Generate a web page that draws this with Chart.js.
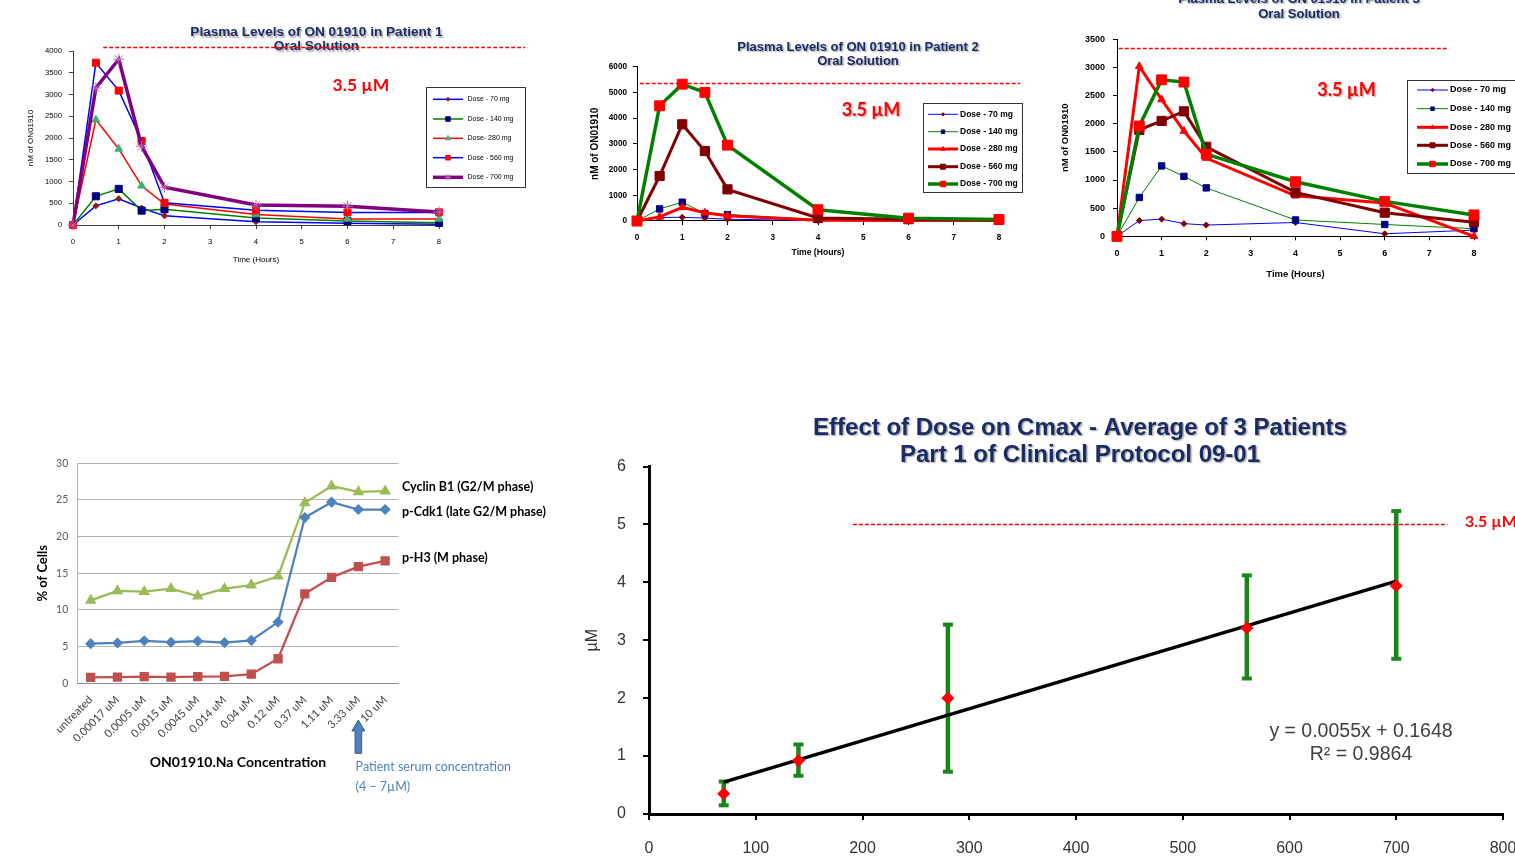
<!DOCTYPE html>
<html>
<head>
<meta charset="utf-8">
<script src="https://cdn.jsdelivr.net/npm/chart.js@4.4.1/dist/chart.umd.min.js"></script>
<style>
  html, body { margin: 0; padding: 0; background: #fff; overflow: hidden; width: 1515px; height: 863px; }
  canvas { position: absolute; left: 0; top: 0; }
</style>
</head>
<body>
<canvas id="p1" width="1600" height="863"></canvas>
<canvas id="p2" width="1600" height="863"></canvas>
<canvas id="p3" width="1600" height="863"></canvas>
<canvas id="cells" width="1600" height="863"></canvas>
<canvas id="cmax" width="1600" height="863"></canvas>
<script>
// ---- data ----
const hours = [0, 0.5, 1, 1.5, 2, 4, 6, 8];

// Patient 1 (nM)
const p1Labels = ['Dose - 70 mg', 'Dose - 140 mg', 'Dose- 280 mg', 'Dose - 560 mg', 'Dose - 700 mg'];
const p1Dose70  = [0, 440, 605, 390, 210, 75, 40, 20];
const p1Dose140 = [0, 660, 830, 330, 360, 160, 90, 50];
const p1Dose280 = [0, 2420, 1750, 900, 480, 240, 140, 140];
const p1Dose560 = [0, 3730, 3090, 1930, 510, 340, 290, 290];
const p1Dose700 = [0, 3150, 3810, 1810, 870, 460, 430, 300];

// Patient 2 (nM)
const p2Labels = ['Dose - 70 mg', 'Dose - 140 mg', 'Dose - 280 mg', 'Dose - 560 mg', 'Dose - 700 mg'];
const p2Dose70  = [0, 135, 145, 110, 70, 15, 10, 10];
const p2Dose140 = [0, 470, 730, 290, 250, 60, 30, 20];
const p2Dose280 = [0, 160, 530, 320, 200, 30, 20, 15];
const p2Dose560 = [0, 1750, 3760, 2720, 1230, 120, 70, 40];
const p2Dose700 = [0, 4480, 5320, 5000, 2950, 440, 110, 60];

// Patient 3 (nM)
const p3Labels = ['Dose - 70 mg', 'Dose - 140 mg', 'Dose - 280 mg', 'Dose - 560 mg', 'Dose - 700 mg'];
const p3Dose70  = [0, 280, 305, 225, 200, 245, 45, 110];
const p3Dose140 = [0, 690, 1250, 1065, 860, 290, 210, 135];
const p3Dose280 = [0, 3020, 2430, 1870, 1390, 720, 590, 0];
const p3Dose560 = [0, 1890, 2050, 2220, 1590, 780, 420, 250];
const p3Dose700 = [0, 1960, 2780, 2740, 1460, 970, 620, 380];

// reference level drawn on each chart (y value, x from, x to)
const p1Ref = [4090, 0.66, 9.88];
const p2Ref = [5350, 0.06, 8.47];
const p3Ref = [3345, 0.04, 7.43];

// cell cycle markers (% of cells)
const concLabels = ['untreated', '0.00017 uM', '0.0005 uM', '0.0015 uM', '0.0045 uM', '0.014 uM',
                    '0.04 uM', '0.12 uM', '0.37 uM', '1.11 uM', '3.33 uM', '10 uM'];
const pCdk1    = [5.4, 5.5, 5.8, 5.6, 5.75, 5.55, 5.85, 8.35, 22.6, 24.7, 23.7, 23.7];
const pH3      = [0.8, 0.85, 0.9, 0.85, 0.9, 0.95, 1.25, 3.35, 12.2, 14.45, 15.9, 16.7];
const cyclinB1 = [11.3, 12.6, 12.5, 12.9, 11.9, 12.9, 13.4, 14.6, 24.6, 26.9, 26.1, 26.2];

// Cmax vs dose (µM)
const doses    = [70, 140, 280, 560, 700];
const cmaxMean = [0.35, 0.92, 2.0, 3.21, 3.94];
const cmaxLow  = [0.15, 0.66, 0.73, 2.34, 2.68];
const cmaxHigh = [0.56, 1.2, 3.27, 4.12, 5.23];
const trendX   = [70, 700];
const trendY   = [0.55, 4.02];
const cmaxRef  = [5.01, 191, 748];

// ---- helpers ----
const CW = 1600, CH = 863;
const ARIAL = "'Liberation Sans', Arial, sans-serif";
const CALIBRI = "Lato, 'Open Sans', sans-serif";
const NAVY = '#1b2b66';
Chart.defaults.font.family = ARIAL;

function frame(area, yTitleX, yTitleSize, boxBottom) {
  const left = yTitleX - yTitleSize * 0.6;
  return {
    padding: { left: left, top: area.top, right: CW - area.right, bottom: CH - boxBottom },
    yw: area.left - left,
    xh: boxBottom - area.bottom
  };
}

function drawText(ctx, t) {
  ctx.save();
  ctx.font = t.font;
  ctx.fillStyle = t.color || '#000';
  ctx.textAlign = t.align || 'center';
  ctx.textBaseline = 'middle';
  if (t.shadow) {
    ctx.shadowColor = 'rgba(0,0,0,0.35)';
    ctx.shadowOffsetX = 1.5;
    ctx.shadowOffsetY = 1.5;
    ctx.shadowBlur = 1.5;
  }
  ctx.fillText(t.text, t.x, t.y);
  ctx.restore();
}

function drawLegend(chart, L) {
  const ctx = chart.ctx;
  ctx.save();
  ctx.fillStyle = '#fff';
  ctx.fillRect(L.x, L.y, L.w, L.h);
  ctx.strokeStyle = L.border;
  ctx.lineWidth = 1;
  ctx.strokeRect(L.x + 0.5, L.y + 0.5, L.w, L.h);
  chart.data.datasets.forEach((ds, i) => {
    const y = L.rows[i];
    ctx.strokeStyle = ds.borderColor;
    ctx.lineWidth = ds.borderWidth;
    ctx.beginPath();
    ctx.moveTo(L.x0, y);
    ctx.lineTo(L.x1, y);
    ctx.stroke();
    ctx.fillStyle = ds.pointBackgroundColor;
    ctx.strokeStyle = ds.pointBorderColor;
    ctx.lineWidth = ds.pointBorderWidth || 1;
    Chart.helpers.drawPoint(ctx, {
      pointStyle: ds.pointStyle, rotation: 0,
      radius: ds.pointRadius * L.markerScale, borderWidth: ds.pointBorderWidth || 1
    }, (L.x0 + L.x1) / 2, y);
    ctx.fillStyle = '#000';
    ctx.font = L.font;
    ctx.textAlign = 'left';
    ctx.textBaseline = 'middle';
    ctx.fillText(ds.label, L.textX, y);
  });
  ctx.restore();
}

const decor = {
  id: 'decor',
  afterDraw(chart, args, o) {
    const ctx = chart.ctx, xs = chart.scales.x, ys = chart.scales.y;
    (o.texts || []).forEach(t => drawText(ctx, t));
    (o.refLines || []).forEach(r => {
      const py = Math.round(ys.getPixelForValue(r[0])) + 0.5;
      ctx.save();
      ctx.strokeStyle = '#ff0000';
      ctx.lineWidth = 1.5;
      ctx.setLineDash([4, 2]);
      ctx.beginPath();
      ctx.moveTo(xs.getPixelForValue(r[1]), py);
      ctx.lineTo(xs.getPixelForValue(r[2]), py);
      ctx.stroke();
      ctx.restore();
    });
    if (o.legend) drawLegend(chart, o.legend);
    if (o.arrow) {
      const a = o.arrow, cx = xs.getPixelForValue(a.index), hy = a.tip + a.headLen;
      ctx.save();
      ctx.beginPath();
      ctx.moveTo(cx, a.tip);
      ctx.lineTo(cx + a.head, hy);
      ctx.lineTo(cx + a.shaft, hy);
      ctx.lineTo(cx + a.shaft, a.base);
      ctx.lineTo(cx - a.shaft, a.base);
      ctx.lineTo(cx - a.shaft, hy);
      ctx.lineTo(cx - a.head, hy);
      ctx.closePath();
      ctx.fillStyle = '#4f81bd';
      ctx.fill();
      ctx.strokeStyle = '#385d8a';
      ctx.lineWidth = 1;
      ctx.stroke();
      ctx.restore();
    }
  }
};

function mk(color, width, style, radius, fill) {
  return { borderColor: color, borderWidth: width, pointStyle: style, pointRadius: radius,
           pointBackgroundColor: fill, pointBorderColor: fill, pointBorderWidth: 1 };
}

const p1Styles = [
  mk('#0000ff', 1.5, 'rectRot', 3, '#8b1a1a'),
  mk('#008000', 1.5, 'rect', 5, '#000080'),
  mk('#ff0000', 1.5, 'triangle', 4.5, '#3cb371'),
  mk('#0000ff', 1.5, 'rect', 5, '#ff0000'),
  mk('#800080', 3.5, 'star', 5.5, '#b36bb3')
];
const p23Styles = [
  mk('#0000ff', 1, 'rectRot', 3, '#800000'),
  mk('#008000', 1, 'rect', 4.5, '#000080'),
  mk('#ff0000', 3, 'triangle', 4.5, '#ff0000'),
  mk('#800000', 3, 'rect', 6.5, '#800000'),
  mk('#008000', 3.5, 'rect', 7, '#ff0000')
];

function patientChart(id, labels, series, styles, c) {
  const f = frame(c.area, c.yTitleX, c.yTitleSize, c.xTitleY + c.xTitleSize * 0.6);
  const datasets = series.map((vals, i) => Object.assign({
    label: labels[i],
    data: hours.map((h, j) => ({ x: h, y: vals[j] })),
    tension: 0, fill: false, clip: false, order: series.length - i
  }, styles[i]));
  return new Chart(document.getElementById(id), {
    type: 'line',
    data: { datasets },
    options: {
      responsive: false, animation: false, events: [],
      layout: { padding: f.padding },
      plugins: { legend: { display: false }, tooltip: { enabled: false }, decor: c.decor },
      scales: {
        x: {
          type: 'linear', min: 0, max: 8,
          afterFit: s => { s.height = f.xh; },
          ticks: { stepSize: 1, font: c.tickFont, color: '#000', padding: 8, callback: v => String(v) },
          grid: { drawOnChartArea: false, tickLength: 4, color: c.axis },
          border: { color: c.axis },
          title: { display: true, text: 'Time (Hours)', font: { size: c.xTitleSize, weight: c.weight }, color: '#000', padding: 0 }
        },
        y: {
          min: 0, max: c.yMax,
          afterFit: s => { s.width = f.yw; },
          ticks: { stepSize: c.yStep, font: c.tickFont, color: '#000', padding: c.yPad, callback: v => String(v) },
          grid: { drawOnChartArea: false, tickLength: 4, color: c.axis },
          border: { color: c.axis },
          title: { display: true, text: 'nM of ON01910', font: { size: c.yTitleSize, weight: c.weight }, color: '#000', padding: 0 }
        }
      }
    },
    plugins: [decor]
  });
}

// ---- Patient 1 ----
patientChart('p1', p1Labels, [p1Dose70, p1Dose140, p1Dose280, p1Dose560, p1Dose700], p1Styles, {
  area: { left: 73, top: 51, right: 439, bottom: 225 },
  yTitleX: 31, yTitleSize: 8, xTitleY: 260, xTitleSize: 8, weight: 'normal',
  yMax: 4000, yStep: 500, yPad: 7, tickFont: { size: 7.7 }, axis: '#404040',
  decor: {
    texts: [
      { text: 'Plasma Levels of ON 01910 in Patient 1', x: 316.5, y: 32.3, font: 'bold 13.6px ' + ARIAL, color: NAVY, shadow: true },
      { text: 'Oral Solution', x: 316.5, y: 46.7, font: 'bold 13.6px ' + ARIAL, color: NAVY, shadow: true },
      { text: '3.5 µM', x: 361, y: 85, font: 'bold 17.5px ' + CALIBRI, color: '#ff0000' }
    ],
    refLines: [p1Ref],
    legend: { x: 426, y: 87, w: 99, h: 100, rows: [99.3, 119, 138.3, 157.7, 177.3],
              x0: 433, x1: 463, textX: 467.5, font: '7px ' + ARIAL, border: '#333', markerScale: 0.65 }
  }
});

// ---- Patient 2 ----
patientChart('p2', p2Labels, [p2Dose70, p2Dose140, p2Dose280, p2Dose560, p2Dose700], p23Styles, {
  area: { left: 637, top: 66.7, right: 999, bottom: 221 },
  yTitleX: 595, yTitleSize: 10, xTitleY: 253, xTitleSize: 8.6, weight: 'bold',
  yMax: 6000, yStep: 1000, yPad: 6, tickFont: { size: 8.2, weight: 'bold' }, axis: '#000',
  decor: {
    texts: [
      { text: 'Plasma Levels of ON 01910 in Patient 2', x: 858, y: 47, font: 'bold 13px ' + ARIAL, color: NAVY, shadow: true },
      { text: 'Oral Solution', x: 858, y: 61, font: 'bold 13px ' + ARIAL, color: NAVY, shadow: true },
      { text: '3.5 µM', x: 871, y: 110, font: 'bold 18px ' + CALIBRI, color: '#ff0000', shadow: true }
    ],
    refLines: [p2Ref],
    legend: { x: 923, y: 103, w: 99, h: 89, rows: [114.3, 131.7, 149, 166.7, 184],
              x0: 928, x1: 958, textX: 960, font: 'bold 8.5px ' + ARIAL, border: '#333', markerScale: 0.55 }
  }
});

// ---- Patient 3 ----
patientChart('p3', p3Labels, [p3Dose70, p3Dose140, p3Dose280, p3Dose560, p3Dose700], p23Styles, {
  area: { left: 1117, top: 39.3, right: 1474, bottom: 236.3 },
  yTitleX: 1065, yTitleSize: 9.5, xTitleY: 274, xTitleSize: 9.5, weight: 'bold',
  yMax: 3500, yStep: 500, yPad: 8, tickFont: { size: 9, weight: 'bold' }, axis: '#000',
  decor: {
    texts: [
      { text: 'Plasma Levels of ON 01910 in Patient 3', x: 1299, y: -1, font: 'bold 13px ' + ARIAL, color: NAVY, shadow: true },
      { text: 'Oral Solution', x: 1299, y: 14, font: 'bold 13px ' + ARIAL, color: NAVY, shadow: true },
      { text: '3.5 µM', x: 1346.5, y: 90, font: 'bold 18px ' + CALIBRI, color: '#ff0000', shadow: true }
    ],
    refLines: [p3Ref],
    legend: { x: 1407, y: 80, w: 125, h: 93, rows: [90, 108.7, 127.3, 145.3, 164],
              x0: 1417, x1: 1448, textX: 1450, font: 'bold 9px ' + ARIAL, border: '#333', markerScale: 0.55 }
  }
});

// ---- cell cycle markers ----
(function () {
  const f = frame({ left: 77.3, top: 463.3, right: 398.5, bottom: 683.3 }, 42.8, 13, 762 + 14 * 0.6);
  const line = (label, vals, color, style, r) => ({
    label, data: vals, borderColor: color, borderWidth: 2.25, pointStyle: style, pointRadius: r,
    pointBackgroundColor: color, pointBorderColor: color, tension: 0, fill: false, clip: false
  });
  new Chart(document.getElementById('cells'), {
    type: 'line',
    data: {
      labels: concLabels,
      datasets: [
        line('p-Cdk1 (late G2/M phase)', pCdk1, '#4f81bd', 'rectRot', 4),
        line('p-H3 (M phase)', pH3, '#c0504d', 'rect', 5),
        line('Cyclin B1 (G2/M phase)', cyclinB1, '#9bbb59', 'triangle', 4.5)
      ]
    },
    options: {
      responsive: false, animation: false, events: [],
      layout: { padding: f.padding },
      plugins: {
        legend: { display: false }, tooltip: { enabled: false },
        decor: {
          texts: [
            { text: 'Cyclin B1 (G2/M phase)', x: 402, y: 487.3, font: 'bold 12.5px ' + CALIBRI, align: 'left' },
            { text: 'p-Cdk1 (late G2/M phase)', x: 402, y: 511.7, font: 'bold 12.5px ' + CALIBRI, align: 'left' },
            { text: 'p-H3 (M phase)', x: 402, y: 558.3, font: 'bold 12.5px ' + CALIBRI, align: 'left' },
            { text: 'Patient serum concentration', x: 355.6, y: 767.3, font: '12.5px ' + CALIBRI, color: '#4f81bd', align: 'left' },
            { text: '(4 \u2013 7\u00b5M)', x: 355.6, y: 786.7, font: '12.5px ' + CALIBRI, color: '#4f81bd', align: 'left' }
          ],
          arrow: { index: 10, tip: 720, headLen: 11, head: 6.5, shaft: 3.3, base: 753.3 }
        }
      },
      scales: {
        x: {
          offset: true,
          afterFit: s => { s.height = f.xh; },
          ticks: { autoSkip: false, minRotation: 45, maxRotation: 45, padding: 10, color: '#404040',
                   font: { family: CALIBRI, size: 11 } },
          grid: { display: false, drawTicks: false },
          border: { color: '#8c8c8c' },
          title: { display: true, text: 'ON01910.Na Concentration', color: '#000', padding: 0,
                   font: { family: CALIBRI, size: 14, weight: 'bold' } }
        },
        y: {
          min: 0, max: 30,
          afterFit: s => { s.width = f.yw; },
          ticks: { stepSize: 5, padding: 9, color: '#595959', font: { family: CALIBRI, size: 10.5 } },
          grid: { color: '#b3b3b3', drawTicks: false },
          border: { color: '#b3b3b3' },
          title: { display: true, text: '% of Cells', color: '#000', padding: 0,
                   font: { family: CALIBRI, size: 13, weight: 'bold' } }
        }
      }
    },
    plugins: [decor]
  });
})();

// ---- Cmax vs dose ----
(function () {
  const f = frame({ left: 649, top: 466.5, right: 1503, bottom: 814 }, 592.7, 16, 854);
  const bars = doses.map((d, i) => ({
    label: 'range ' + d,
    data: [{ x: d, y: cmaxLow[i] }, { x: d, y: cmaxHigh[i] }],
    showLine: true, borderColor: '#1a861a', borderWidth: 4.5,
    pointStyle: 'line', pointRadius: 5, pointBorderWidth: 4, pointBorderColor: '#1a861a',
    clip: false, order: 3
  }));
  new Chart(document.getElementById('cmax'), {
    type: 'scatter',
    data: {
      datasets: [
        { label: 'Cmax', data: doses.map((d, i) => ({ x: d, y: cmaxMean[i] })),
          pointStyle: 'rectRot', pointRadius: 6, pointBackgroundColor: '#ff0000', pointBorderColor: '#ff0000',
          clip: false, order: 1 },
        { label: 'trend', data: trendX.map((x, i) => ({ x, y: trendY[i] })), showLine: true,
          borderColor: '#000', borderWidth: 3.5, pointRadius: 0, clip: false, order: 2 }
      ].concat(bars)
    },
    options: {
      responsive: false, animation: false, events: [],
      layout: { padding: f.padding },
      plugins: {
        legend: { display: false }, tooltip: { enabled: false },
        decor: {
          texts: [
            { text: 'Effect of Dose on Cmax - Average of 3 Patients', x: 1080, y: 428, font: 'bold 24px ' + ARIAL, color: NAVY, shadow: true },
            { text: 'Part 1 of Clinical Protocol 09-01', x: 1080, y: 455, font: 'bold 24px ' + ARIAL, color: NAVY, shadow: true },
            { text: 'y = 0.0055x + 0.1648', x: 1361, y: 731.7, font: '19.5px ' + ARIAL, color: '#404040' },
            { text: 'R\u00b2 = 0.9864', x: 1361, y: 755, font: '19.5px ' + ARIAL, color: '#404040' },
            { text: '3.5 µM', x: 1465, y: 521.7, font: 'bold 16px ' + CALIBRI, color: '#ff0000', align: 'left' }
          ],
          refLines: [cmaxRef]
        }
      },
      scales: {
        x: {
          type: 'linear', min: 0, max: 800,
          afterFit: s => { s.height = f.xh; },
          ticks: { stepSize: 100, padding: 19, color: '#333', font: { size: 16 }, callback: v => String(v) },
          grid: { drawOnChartArea: false, tickLength: 6, lineWidth: 2, color: '#000' },
          border: { color: '#000', width: 3 }
        },
        y: {
          min: 0, max: 6,
          afterFit: s => { s.width = f.yw; },
          ticks: { stepSize: 1, padding: 17, color: '#333', font: { size: 16 }, callback: v => String(v) },
          grid: { drawOnChartArea: false, tickLength: 6, lineWidth: 2, color: '#000' },
          border: { color: '#000', width: 3 },
          title: { display: true, text: 'µM', color: '#333', padding: 0, font: { size: 16 } }
        }
      }
    },
    plugins: [decor]
  });
})();
</script>
</body>
</html>
